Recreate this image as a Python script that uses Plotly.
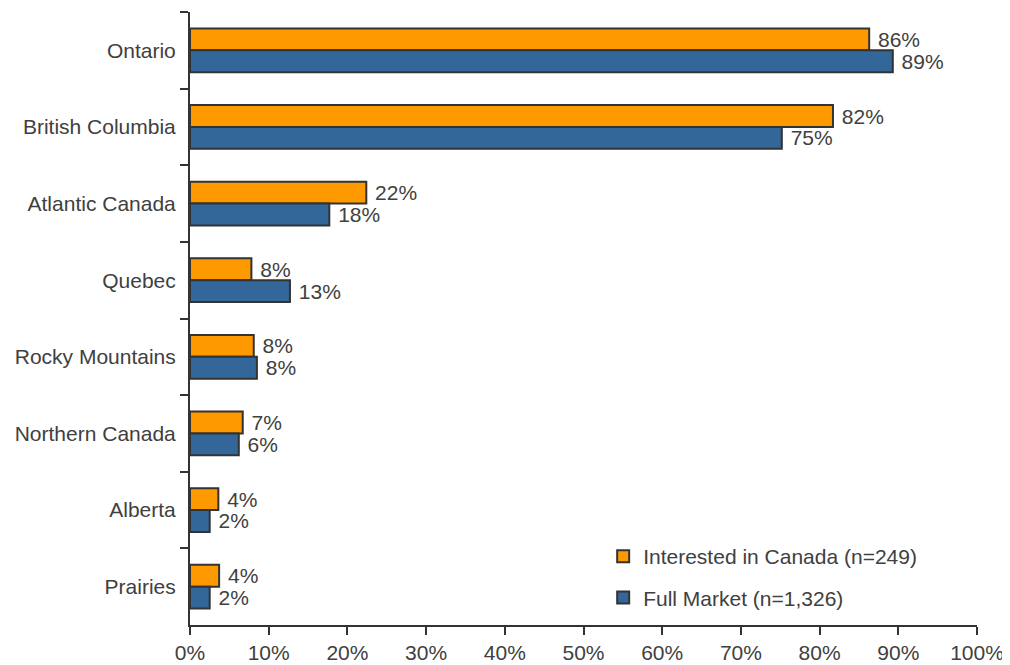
import plotly.graph_objects as go

regions = ['Ontario', 'British Columbia', 'Atlantic Canada', 'Quebec',
           'Rocky Mountains', 'Northern Canada', 'Alberta', 'Prairies']

# share of respondents (%)
interested = [86.3, 81.7, 22.4, 7.8, 8.1, 6.7, 3.6, 3.7]
interested_labels = ['86%', '82%', '22%', '8%', '8%', '7%', '4%', '4%']
full_market = [89.3, 75.2, 17.7, 12.7, 8.5, 6.2, 2.5, 2.5]
full_market_labels = ['89%', '75%', '18%', '13%', '8%', '6%', '2%', '2%']

x_ticks = list(range(0, 101, 10))
x_tick_labels = [f'{v}%' for v in x_ticks]

FONT = 'Liberation Sans, Arial, sans-serif'
TEXT = '#404040'
AXIS = '#333333'
FS = 21

fig = go.Figure()

fig.add_trace(go.Bar(
    y=regions, x=interested, orientation='h',
    name='Interested in Canada (n=249)', legendgroup='a',
    marker=dict(color='#FF9900', line=dict(color=AXIS, width=2)),
    text=interested_labels, texttemplate=' %{text}', textposition='outside',
    constraintext='none',
    textfont=dict(size=FS, color=TEXT, family=FONT),
    cliponaxis=False,
))
fig.add_trace(go.Bar(
    y=regions, x=full_market, orientation='h',
    name='Full Market (n=1,326)', legendgroup='b',
    marker=dict(color='#336699', line=dict(color=AXIS, width=2)),
    text=full_market_labels, texttemplate=' %{text}', textposition='outside',
    constraintext='none',
    textfont=dict(size=FS, color=TEXT, family=FONT),
    cliponaxis=False,
))

fig.update_layout(
    width=1010, height=665,
    margin=dict(l=182, r=41, t=4, b=48, autoexpand=False),
    barmode='group', bargap=0.43, bargroupgap=0,
    plot_bgcolor='white', paper_bgcolor='white',
    font=dict(family=FONT, size=FS, color=TEXT),
    showlegend=True,
    legend=dict(
        x=0.525, y=0.145, xanchor='left', yanchor='top',
        traceorder='grouped', tracegroupgap=11,
        font=dict(size=FS, color=TEXT, family=FONT),
        bgcolor='rgba(0,0,0,0)',
        itemwidth=30,
    ),
)

fig.update_xaxes(
    range=[0, 100], tickmode='array', tickvals=x_ticks, ticktext=x_tick_labels,
    showgrid=False, zeroline=False,
    showline=True, linecolor=AXIS, linewidth=2,
    ticks='outside', ticklen=8, tickwidth=2, tickcolor=AXIS,
    tickfont=dict(size=FS, color=TEXT),
)
fig.update_yaxes(
    autorange='reversed', tickson='boundaries',
    showgrid=False, zeroline=False,
    showline=True, linecolor=AXIS, linewidth=2,
    ticks='outside', ticklen=8, tickwidth=2, tickcolor=AXIS,
    ticklabelstandoff=8,
    tickfont=dict(size=FS, color=TEXT),
)

fig.write_html("out.html")
